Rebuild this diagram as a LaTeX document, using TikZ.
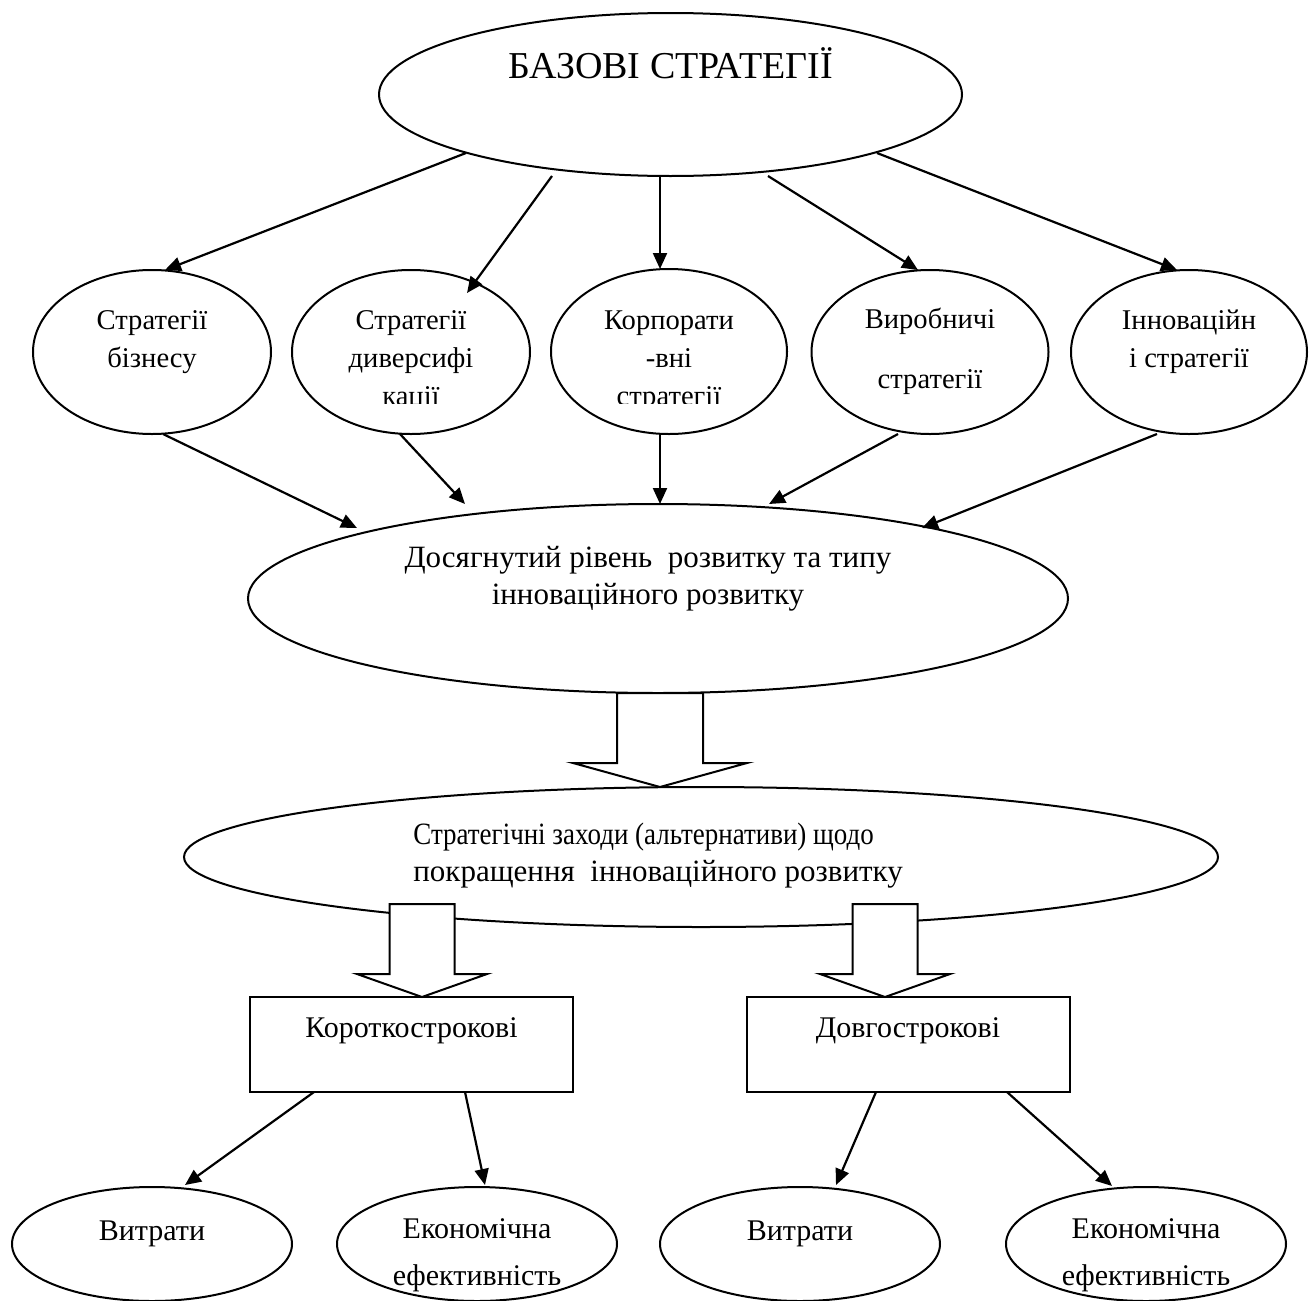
\documentclass[tikz,border=0pt]{standalone}
\usepackage{fontspec}
\setmainfont{Liberation Serif}
\usetikzlibrary{shapes.geometric,arrows.meta,calc}
\begin{document}
\begin{tikzpicture}[x=0.5pt,y=-0.5pt,
  oval/.style 2 args={ellipse, draw, line width=1pt, inner sep=0pt, outer sep=0pt,
    minimum width=#1*0.5pt, minimum height=#2*0.5pt},
  rect/.style={draw, line width=1pt, inner sep=0pt, outer sep=0pt,
    minimum width=323*0.5pt, minimum height=95*0.5pt},
  txt/.style={inner sep=0pt, anchor=base, align=center, font=\fontsize{14.3}{19}\selectfont},
  bigtxt/.style={inner sep=0pt, anchor=base, align=center, font=\fontsize{15.5}{18.5}\selectfont},
  smalltxt/.style={inner sep=0pt, anchor=base, align=center, font=\fontsize{15}{23.5}\selectfont},
  arr/.style={-{Triangle[length=8pt,width=7pt]}, line width=1.1pt},
  pics/blk/.style args={#1/#2/#3/#4}{code={
    \filldraw[fill=white, line width=1pt, line join=miter]
      (-#1,-#3) -- (#1,-#3) -- (#1,-#4) -- (#2,-#4) -- (0,0) -- (-#2,-#4) -- (-#1,-#4) -- cycle;}}
]
\useasboundingbox (0,0) rectangle (1312,1301);

% top level
\node[oval={583}{163}] (top) at (670.5,94.5) {};
\node[txt, font=\fontsize{19}{23}\selectfont] (topt) at (670.5,78) {БАЗОВІ СТРАТЕГІЇ};

% second level
\node[oval={238}{164}] (s1) at (152,352) {};
\node[oval={238}{164}] (s2) at (411,352) {};
\node[oval={236}{165}] (s3) at (669,351.5) {};
\node[oval={237}{164}] (s4) at (930,352) {};
\node[oval={236}{164}] (s5) at (1189,352) {};

% multi-line labels sit on the baseline of their last line
\node[txt] (s1t) at (152,367) {Стратегії\\бізнесу};
\begin{scope}
  \clip (280,280) rectangle (800,403);
  \node[txt] (s2t) at (411,405) {Стратегії\\диверсифі\\кації};
  \node[txt] (s3t) at (669,405) {Корпорати\\-вні\\стратегії};
\end{scope}
\node[txt] (s4t) at (930,388) {Виробничі\\[11pt]стратегії};
\node[txt] (s5t) at (1189,367) {Інноваційн\\і стратегії};

% level of development
\node[oval={820}{189}] (dev) at (658,598.5) {};
\node[bigtxt] (devt) at (648,604) {Досягнутий рівень\ \ розвитку та типу\\інноваційного розвитку};

% strategic measures
\node[oval={1034}{140}] (meas) at (701,857) {};
\node[bigtxt, anchor=base west, align=left] (meast) at (413,881)
  {\scalebox{0.87}[1]{Стратегічні заходи (альтернативи) щодо}\\покращення\ \ інноваційного розвитку};

% terms
\node[rect] (short) at (411.5,1044.5) {};
\node[rect] (long) at (908,1044.5) {};
\node[smalltxt] (shortt) at (411.5,1037) {Короткострокові};
\node[smalltxt] (longt) at (908,1037) {Довгострокові};

% results
\node[oval={280}{114}] (b1) at (152,1244) {};
\node[oval={280}{114}] (b2) at (477,1244) {};
\node[oval={280}{114}] (b3) at (800,1244) {};
\node[oval={280}{114}] (b4) at (1146,1244) {};
\node[smalltxt] (b1t) at (152,1240) {Витрати};
\node[smalltxt] (b2t) at (477,1285) {Економічна\\ефективність};
\node[smalltxt] (b3t) at (800,1240) {Витрати};
\node[smalltxt] (b4t) at (1146,1285) {Економічна\\ефективність};

% arrows from the base strategies
\draw[arr] ($(top)+(-204.5,58.5)$) -- ($(s1)+(13,-82)$);
\draw[arr] ($(top)+(-118.5,81.5)$) -- ($(s2)+(56,-59)$);
\draw[arr] ($(top)+(-10.5,81.5)$) -- ($(s3)+(-9,-82.5)$);
\draw[arr] ($(top)+(97.5,81.5)$) -- ($(s4)+(-12,-82)$);
\draw[arr] ($(top)+(206.5,58.5)$) -- ($(s5)+(-12,-82)$);

% arrows into the development level
\draw[arr] ($(s1)+(11,82)$) -- ($(dev)+(-301,-70.5)$);
\draw[arr] ($(s2)+(-11,82)$) -- ($(dev)+(-193,-94.5)$);
\draw[arr] ($(s3)+(-9,82.5)$) -- ($(dev)+(2,-94.5)$);
\draw[arr] ($(s4)+(-32,82)$) -- ($(dev)+(111,-94.5)$);
\draw[arr] ($(s5)+(-32,82)$) -- ($(dev)+(264,-70.5)$);

% block arrows
\pic (blk1) at ($(meas.north)+(-41,0)$) {blk=43/87/94/24};
\pic (blk2) at ($(short.north)+(10.5,0)$) {blk=32.5/65/93/23};
\pic (blk3) at ($(long.north)+(-23,0)$) {blk=32.5/65/93/23};

% arrows to the results
\draw[arr] ($(short.south)+(-97.5,0)$) -- ($(b1)+(33,-59)$);
\draw[arr] ($(short.south)+(53.5,0)$) -- ($(b2)+(8,-59)$);
\draw[arr] ($(long.south)+(-32,0)$) -- ($(b3)+(36,-59)$);
\draw[arr] ($(long.south)+(99,0)$) -- ($(b4)+(-34,-58)$);
\end{tikzpicture}
\end{document}
